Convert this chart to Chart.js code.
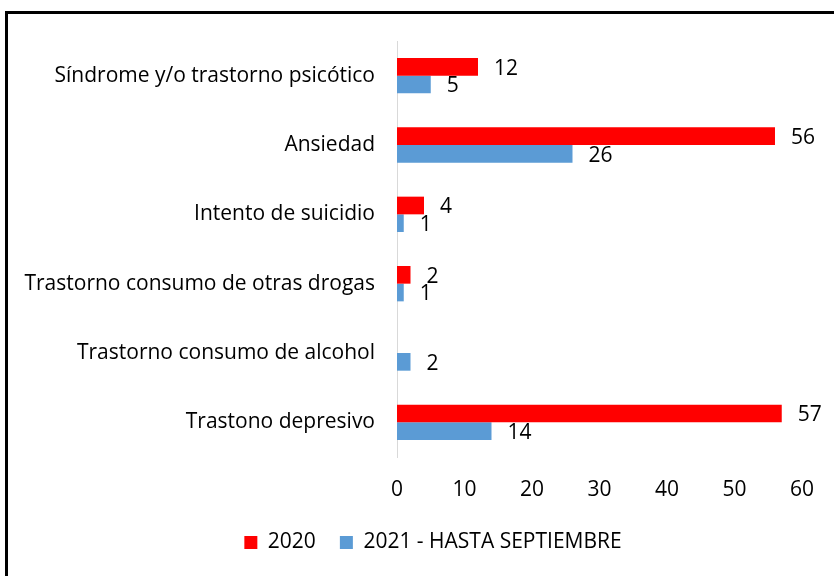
<!DOCTYPE html>
<html lang="es">
<head>
  <meta charset="UTF-8">
  <title>Diagnósticos 2020 - 2021</title>
  <script src="https://cdn.jsdelivr.net/npm/chart.js"></script>
  <style>
    body {
      margin: 0;
      background: #ffffff;
      font-family: "Open Sans", Arial, sans-serif;
      overflow: hidden;
    }
    #frame {
      position: absolute;
      left: 5px;
      top: 11px;
      width: 900px;
      height: 700px;
      border: 3px solid #000;
    }
    #chart-container {
      position: absolute;
      left: 0;
      top: 0;
      width: 834px;
      height: 576px;
    }
  </style>
</head>
<body>

  <div id="frame"></div>
  <div id="chart-container">
    <canvas id="diagChart"></canvas>
  </div>

  <script>
    const categories = [
      'Síndrome y/o trastorno psicótico',
      'Ansiedad',
      'Intento de suicidio',
      'Trastorno consumo de otras drogas',
      'Trastorno consumo de alcohol',
      'Trastono depresivo'
    ];
    const values2020 = [12, 56, 4, 2, null, 57];
    const values2021 = [5, 26, 1, 1, 2, 14];
    const xTicks = [0, 10, 20, 30, 40, 50, 60];

    const FONT = '"Open Sans", Arial, sans-serif';

    // etiquetas de valor a la derecha de cada barra
    const valueLabels = {
      id: 'valueLabels',
      afterDatasetsDraw(chart) {
        const ctx = chart.ctx;
        ctx.save();
        ctx.fillStyle = '#000';
        ctx.font = '21px ' + FONT;
        ctx.textAlign = 'left';
        ctx.textBaseline = 'middle';
        chart.data.datasets.forEach((ds, i) => {
          chart.getDatasetMeta(i).data.forEach((bar, j) => {
            const v = ds.data[j];
            if (v === null || v === undefined) return;
            ctx.fillText(String(v), bar.x + 16, bar.y + 2);
          });
        });
        ctx.restore();
      }
    };

    // que las etiquetas largas del eje y no se recorten
    const widenLabelArea = {
      id: 'widenLabelArea',
      afterLayout(chart) {
        chart.scales.y.left = 0;
      }
    };

    const ctx = document.getElementById('diagChart').getContext('2d');
    new Chart(ctx, {
      type: 'bar',
      data: {
        labels: categories,
        datasets: [
          {
            label: '2020',
            data: values2020,
            backgroundColor: '#ff0000',
            barPercentage: 1,
            categoryPercentage: 0.51
          },
          {
            label: '2021 - HASTA SEPTIEMBRE',
            data: values2021,
            backgroundColor: '#5b9bd5',
            barPercentage: 1,
            categoryPercentage: 0.51
          }
        ]
      },
      options: {
        indexAxis: 'y',
        responsive: true,
        maintainAspectRatio: false,
        animation: false,
        layout: { padding: { left: 61, right: 29, top: 41, bottom: 13 } },
        scales: {
          x: {
            min: 0,
            max: 60,
            afterBuildTicks(axis) { axis.ticks = xTicks.map(v => ({ value: v })); },
            afterFit(axis) { axis.height = 51; },
            grid: { display: false, drawTicks: false },
            border: { display: false },
            ticks: { color: '#000', padding: 20, font: { size: 21, family: FONT } }
          },
          y: {
            afterFit(axis) { axis.width = 336; },
            grid: { display: false, drawTicks: false },
            border: { display: true, color: '#d9d9d9', width: 1 },
            ticks: { color: '#000', padding: 22, font: { size: 21, family: FONT } }
          }
        },
        plugins: {
          legend: {
            position: 'bottom',
            labels: {
              color: '#000',
              boxWidth: 13,
              boxHeight: 13,
              padding: 24,
              font: { size: 21, family: FONT }
            }
          },
          tooltip: { enabled: false }
        }
      },
      plugins: [valueLabels, widenLabelArea]
    });
  </script>

</body>
</html>
